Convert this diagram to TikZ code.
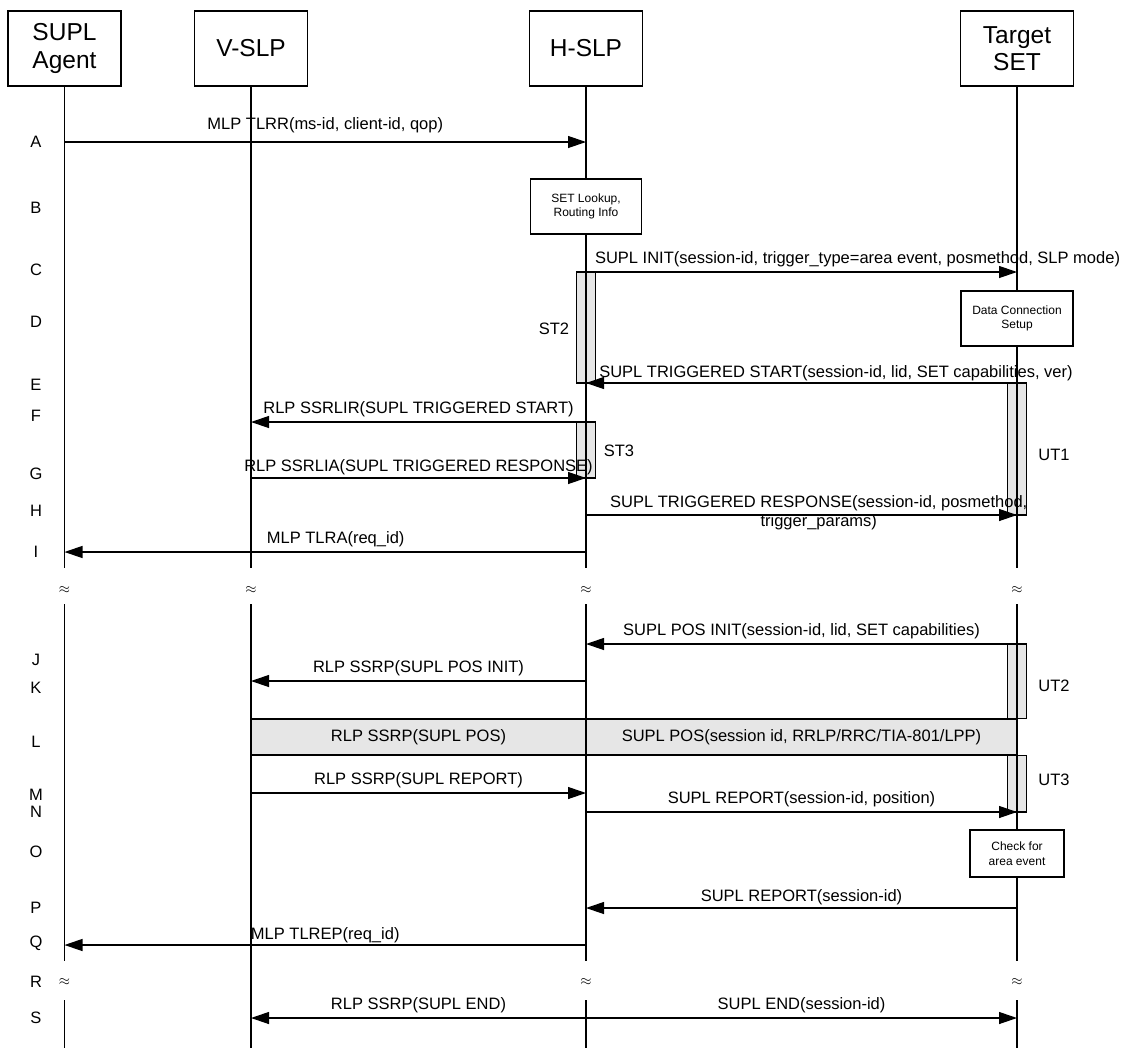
\documentclass[tikz,border=0pt]{standalone}
\usepackage{fontspec}
\setmainfont{Liberation Sans}
\usetikzlibrary{arrows.meta,calc}
\definecolor{barGray}{HTML}{E6E6E6}
\tikzset{head/.style={draw, line width=1.2pt, minimum width=113pt, minimum height=75pt,
        align=center, inner sep=0pt, font=\fontsize{24.5}{27.5}\selectfont},
    stepBox/.style={draw, fill=white, line width=1.2pt, align=center, inner sep=0pt,
        font=\fontsize{12}{14.5}\selectfont},
    band/.style={draw, fill=barGray, line width=1.2pt, minimum height=36pt, inner sep=0pt,
        font=\fontsize{16.5}{19}\selectfont},
    actBar/.style={draw, fill=barGray, line width=1.2pt},
    lifeline/.style={line width=1.2pt},
    msgArrow/.style={line width=1.2pt, -{Triangle[length=18pt,width=12pt]}},
    msgText/.style={font=\fontsize{16.5}{19}\selectfont, anchor=base, yshift=9pt, inner sep=0pt},
    msgTwoLine/.style={font=\fontsize{16.5}{19}\selectfont, align=center, yshift=2pt, inner sep=0pt},
    rowLabel/.style={font=\fontsize{16.5}{19}\selectfont, inner sep=0pt},
    gapMark/.style={font=\fontsize{15}{15}\selectfont, inner sep=0pt},
    }

\begin{document}
\begin{tikzpicture}[x=1pt, y=-1pt]
	\useasboundingbox[fill=white] (0,0) rectangle (1124,1050);
	% rows
	\foreach \m/\y in {A/142,C/272,E/383,F/422,G/478,H/515,I/552,J/644,K/681,M/793,N/812,P/908,Q/945,S/1018}
		\coordinate (msg\m) at (0,\y);
	\coordinate (cutOneTop) at (0,568);
	\coordinate (gapOne) at (0,590);
	\coordinate (cutOneBot) at (0,604);
	\coordinate (cutTwoTop) at (0,961);
	\coordinate (gapTwo) at (0,982);
	\coordinate (cutTwoBot) at (0,1000);
	\coordinate (bottomEnd) at (0,1048);
	\foreach \l/\y in {A/142,B/208,C/270,D/322,E/385,F/416,G/474,H/511,I/552,J/660,K/688,L/742,M/795,N/812,O/852,P/908,Q/943,R/982,S/1018}
		\node[rowLabel] (row\l) at (36,\y) {\l};
	% heads
	\node[head] (agent) at (64.5,48.5) {SUPL\\Agent};
	\node[head] (vSlp) at (251,48.5) {V-SLP};
	\node[head] (hSlp) at (586,48.5) {H-SLP};
	\node[head] (target) at (1017,48.5) {Target\\SET};
	% boxes
	\node[stepBox, minimum width=111pt, minimum height=55pt] (lookupBox) at (586,206.5) {SET Lookup,\\Routing Info};
	\node[stepBox, minimum width=112pt, minimum height=55pt] (dataConnBox) at (1017,318.5) {Data Connection\\Setup};
	\node[stepBox, minimum width=94pt, minimum height=47pt] (checkBox) at (1017,853.5) {Check for\\area event};
	\node[band, minimum width=335pt] (posRelay) at (418.5,737) {RLP SSRP(SUPL POS)};
	\node[band, minimum width=431pt] (posMsg) at (801.5,737) {SUPL POS(session id, RRLP/RRC/TIA-801/LPP)};
	% timers
	\draw[actBar] ($(hSlp |- msgC)+(-9.5,0)$) rectangle ($(hSlp |- msgE)+(9.5,0)$);%ST2
	\draw[actBar] ($(hSlp |- msgF)+(-9.5,0)$) rectangle ($(hSlp |- msgG)+(9.5,0)$);%ST3
	\draw[actBar] ($(target |- msgE)+(-9.5,0)$) rectangle ($(target |- msgH)+(9.5,0)$);%UT1
	\draw[actBar] ($(target |- msgJ)+(-9.5,0)$) rectangle ($(target |- posMsg.north)+(9.5,0)$);%UT2
	\draw[actBar] ($(target |- posMsg.south)+(-9.5,0)$) rectangle ($(target |- msgN)+(9.5,0)$);%UT3
	\node[rowLabel] (stTwo) at (554,329) {ST2};
	\node[rowLabel] (stThree) at (619,451) {ST3};
	\node[rowLabel] (utOne) at (1054,455) {UT1};
	\node[rowLabel] (utTwo) at (1054,686) {UT2};
	\node[rowLabel] (utThree) at (1054,780) {UT3};
	% lifelines
	\draw[lifeline] (agent.south) -- (agent |- cutOneTop) (agent |- cutOneBot) -- (agent |- cutTwoTop)
		(agent |- cutTwoBot) -- (agent |- bottomEnd);
	\draw[lifeline] (vSlp.south) -- (vSlp |- cutOneTop) (vSlp |- cutOneBot) -- (vSlp |- bottomEnd);
	\draw[lifeline] (hSlp.south) -- (lookupBox.north) (lookupBox.south) -- (hSlp |- cutOneTop)
		(hSlp |- cutOneBot) -- (hSlp |- cutTwoTop) (hSlp |- cutTwoBot) -- (hSlp |- bottomEnd);
	\draw[lifeline] (target.south) -- (dataConnBox.north) (dataConnBox.south) -- (target |- cutOneTop)
		(target |- cutOneBot) -- (checkBox.north) (checkBox.south) -- (target |- cutTwoTop)
		(target |- cutTwoBot) -- (target |- bottomEnd);
	\foreach \who in {agent,vSlp,hSlp,target}
		\node[gapMark] (gap\who) at (\who |- gapOne) {$\approx$};
	\foreach \who in {agent,hSlp,target}
		\node[gapMark] (gapLow\who) at (\who |- gapTwo) {$\approx$};
	% messages
	\draw[msgArrow] (agent |- msgA) -- node[msgText, yshift=4pt] {MLP TLRR(ms-id, client-id, qop)} (hSlp |- msgA);
	\draw[msgArrow] (hSlp |- msgC) -- node[msgText, pos=.63] {SUPL INIT(session-id, trigger\_type=area event, posmethod, SLP mode)} (target |- msgC);
	\draw[msgArrow] (target |- msgE) -- node[msgText, pos=.42, yshift=-3pt] {SUPL TRIGGERED START(session-id, lid, SET capabilities, ver)} (hSlp |- msgE);
	\draw[msgArrow] (hSlp |- msgF) -- node[msgText] {RLP SSRLIR(SUPL TRIGGERED START)} (vSlp |- msgF);
	\draw[msgArrow] (vSlp |- msgG) -- node[msgText, yshift=-2pt] {RLP SSRLIA(SUPL TRIGGERED RESPONSE)} (hSlp |- msgG);
	\draw[msgArrow] (hSlp |- msgH) -- node[msgTwoLine, pos=.54] {SUPL TRIGGERED RESPONSE(session-id, posmethod,\\trigger\_params)} (target |- msgH);
	\draw[msgArrow] (hSlp |- msgI) -- node[msgText, pos=.48] {MLP TLRA(req\_id)} (agent |- msgI);
	\draw[msgArrow] (target |- msgJ) -- node[msgText] {SUPL POS INIT(session-id, lid, SET capabilities)} (hSlp |- msgJ);
	\draw[msgArrow] (hSlp |- msgK) -- node[msgText] {RLP SSRP(SUPL POS INIT)} (vSlp |- msgK);
	\draw[msgArrow] (vSlp |- msgM) -- node[msgText] {RLP SSRP(SUPL REPORT)} (hSlp |- msgM);
	\draw[msgArrow] (hSlp |- msgN) -- node[msgText] {SUPL REPORT(session-id, position)} (target |- msgN);
	\draw[msgArrow] (target |- msgP) -- node[msgText, yshift=-2pt] {SUPL REPORT(session-id)} (hSlp |- msgP);
	\draw[msgArrow] (hSlp |- msgQ) -- node[msgText, yshift=-3pt] {MLP TLREP(req\_id)} (agent |- msgQ);
	\draw[msgArrow] (hSlp |- msgS) -- node[msgText] {RLP SSRP(SUPL END)} (vSlp |- msgS);
	\draw[msgArrow] (hSlp |- msgS) -- node[msgText] {SUPL END(session-id)} (target |- msgS);
\end{tikzpicture}
\end{document}
